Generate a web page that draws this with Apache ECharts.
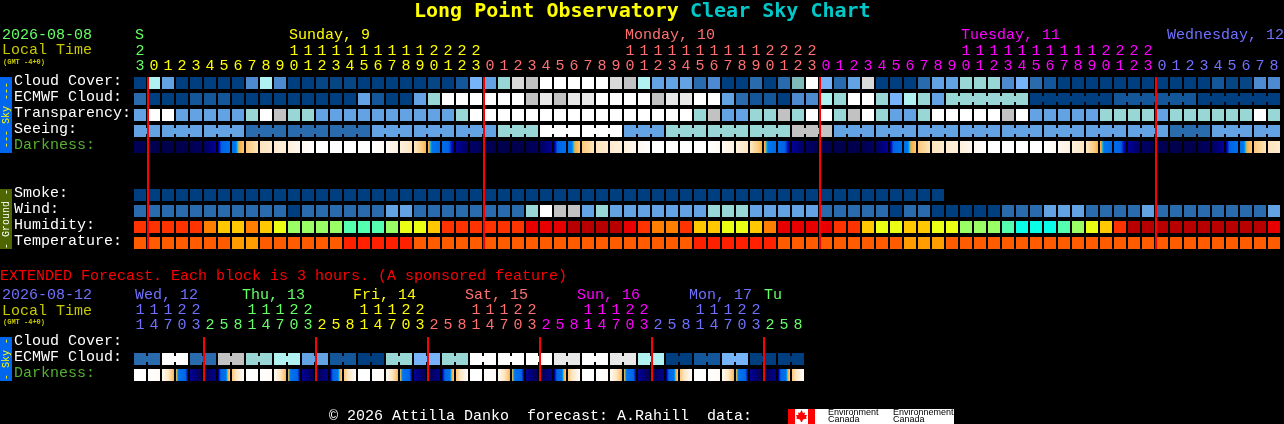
<!DOCTYPE html>
<html>
<head>
<meta charset="utf-8">
<style>html,body{margin:0;padding:0;background:#000}#c{width:1284px;height:424px}</style>
<script src="https://cdn.jsdelivr.net/npm/echarts@6/dist/echarts.min.js"></script>
</head>
<body>
<div id="c"></div>
<script>
// ---------- Data ----------
const hours = [23,
  0,1,2,3,4,5,6,7,8,9,10,11,12,13,14,15,16,17,18,19,20,21,22,23,
  0,1,2,3,4,5,6,7,8,9,10,11,12,13,14,15,16,17,18,19,20,21,22,23,
  0,1,2,3,4,5,6,7,8,9,10,11,12,13,14,15,16,17,18,19,20,21,22,23,
  0,1,2,3,4,5,6,7,8];
const extHours = [11,14,17,20,23,2,5,8, 11,14,17,20,23,2,5,8, 11,14,17,20,23,2,5,8,
  11,14,17,20,23,2,5,8, 11,14,17,20,23,2,5,8, 11,14,17,20,23,2,5,8];
const rowNames = ['Cloud Cover:','ECMWF Cloud:','Transparency:','Seeing:','Darkness:','','','Smoke:','Wind:','Humidity:','Temperature:'];
const extRowNames = ['Cloud Cover:','ECMWF Cloud:','Darkness:'];
const cloudCover = [0,7,4,0,0,0,0,0,3,7, 3,0,0,13,13,13,0,0,0,0, 0,13,0,1,5,4,6,12,8,10,
  10,10,10,10,12,8,7,4,4,4, 2,3,0,0,2,0,2,11,10,5, 2,4,12,0,0,0,2,4,4,6,
  6,6,3,5,2,1,0,0,0,0, 0,0,0,0,0,0,0,1,13,13, 3,3];
const ecmwfCloud = [2,0,0,0,1,1,1,0,0,0, 0,0,0,0,0,0,4,1,0,0, 4,6,10,10,10,10,10,10,8,9,
  8,9,9,10,10,10,10,8,9,9, 10,10,4,2,1,1,0,3,3,7, 6,10,10,6,5,7,6,4,6,6,
  6,6,6,6,0,0,0,0,0,0, 1,1,1,1,1,1,0,0,0,0, 0,0];
const ecmwfJoined = [[58,63],[64,69],[70,75],[76,81]];
const transparency = [4,10,10,4,4,4,4,4,6,10, 8,6,6,4,4,4,4,4,4,4, 4,4,4,6,10,10,10,10,10,10,
  10,10,10,10,10,10,10,10,10,10, 6,8,4,4,6,6,8,6,10,10, 6,8,10,6,4,4,6,10,10,10,
  10,10,8,10,4,4,4,4,4,6, 6,6,6,4,6,6,6,6,6,6, 10,6];
const seeingBlocks = [4,4,4,2,2,2,4,4,4,6,10,10,4,6,6,6,8,4,4,4,4,4,4,4,4,2,4,4];
const seeingSpans  = [2,3,3,3,3,3,3,3,3,3,3,3,3,3,3,3,3,3,3,3,3,3,3,3,3,3,3,2];
const darknessEdges = [5,4,3,3,4,7,16,38,56,70,78,84,92,100,100,100,100,100,94,84,72,50,30,16,8,
  6,4,3,4,7,16,38,56,70,78,84,92,100,100,100,100,100,94,84,72,50,30,16,8,
  5,4,3,4,7,16,38,56,70,78,84,92,100,100,100,100,100,94,84,72,50,30,16,8,
  5,4,3,4,7,16,38,56,70,78];
const smoke = [0,0,0,0,0,0,0,0,0,0, 0,0,0,0,0,0,0,0,0,0, 0,0,0,0,0,0,0,0,0,0,
  0,0,0,0,0,0,0,0,0,0, 0,0,0,0,0,0,0,0,0,0, 0,0,0,0,0,0,0,0];
const wind = [2,2,2,2,2,2,2,2,2,2, 2,0,2,2,2,2,2,2,4,4, 2,2,2,2,2,2,2,2,6,10,
  8,8,4,6,4,4,4,4,4,4, 4,6,6,6,4,4,4,4,4,2, 2,2,2,2,0,2,2,0,0,0,
  0,0,2,2,2,4,4,4,2,2, 2,2,4,2,2,2,2,2,2,2, 2,4];
const humidity = [2,2,2,2,2,3,4,4,3,4, 5,6,6,6,6,7,7,7,6,5, 5,4,2,2,2,2,2,2,1,1,
  1,0,0,0,0,1,2,3,3,2, 4,4,5,5,4,3,1,1,1,1, 2,2,4,5,5,4,4,5,5,6,
  6,6,7,8,8,8,7,6,5,4, 2,0,0,0,0,0,0,0,0,0, 0,1];
const temperature = [1,1,1,1,1,1,1,2,2,1, 1,1,1,1,1,0,0,0,0,0, 1,1,1,1,1,1,1,1,1,1,
  1,1,1,1,1,1,1,1,1,1, 0,0,0,0,0,0,1,1,1,1, 1,1,1,1,1,2,2,2,1,1,
  1,1,1,1,1,1,1,1,1,1, 1,1,1,1,1,1,1,1,1,1, 1,1];
const extEcmwfBlocks = [2,10,2,8,6,7,4,1,0,6,5,6,10,10,10,9,10,9,7,0,1,5,0,0];
const extDarknessEdges = [100,100,96,50,16,5,14,56, 100,100,96,50,16,5,14,56, 100,100,96,50,16,5,14,56,
  100,100,96,50,16,5,14,56, 100,100,96,50,16,5,14,56, 100,100,96,50,16,5,14,56, 100];
const dayBreaks = [1,25,49,73];
const extDayBreaks = [5,13,21,29,37,45];
const dayNames = ['S','Sunday, 9','Monday, 10','Tuesday, 11','Wednesday, 12'];
const extDayNames = ['Wed, 12','Thu, 13','Fri, 14','Sat, 15','Sun, 16','Mon, 17','Tu'];

// ---------- Styles and layout ----------
const skyPalette = ['#003f7f','#13569a','#2a6bae','#4d8ad0','#63a2e3','#76b3f8','#99d6d6','#b0f2f2',
  '#c2c2c2','#e8e8e8','#ffffff','#7fbaba','#dadada','#074684'];
const humidityPalette = ['#b80000','#e80000','#ff3300','#ff8000','#ffc800','#eaff14','#9aff64','#54ffb0','#0affe8'];
const temperaturePalette = ['#ff2000','#ff5c00','#ff9c00'];
const darkRamp = [[0,'#00003c'],[8,'#000064'],[14,'#00008c'],[18,'#0000b4'],[22,'#0064e4'],[44,'#0074f0'],
  [46,'#00c8e8'],[48,'#f8a838'],[56,'#fcc878'],[70,'#fde4bc'],[84,'#fff0dc'],[100,'#ffffff']];
const dayColors = ['#66ff66','#ffff00','#ff7070','#ff00ff','#7070ff'];
const extDayColors = ['#7070ff','#66ff66','#ffff00','#ff7070','#ff00ff','#7070ff','#66ff66'];
const dayNameX = [135,289,625,961,1167];
const extDayNameX = [135,242,353,465,577,689,764];
const MONO = '"Liberation Mono", monospace';
const FONT = '15px ' + MONO;

function hexToRgb(h){return [1,3,5].map(k=>parseInt(h.substr(k,2),16));}
function rampColor(v){
  for(let k=1;k<darkRamp.length;k++){
    if(v<=darkRamp[k][0]){
      const [a,ca]=darkRamp[k-1],[b,cb]=darkRamp[k];
      const t=(v-a)/(b-a),A=hexToRgb(ca),B=hexToRgb(cb);
      return 'rgb('+A.map((x,n)=>Math.round(x+(B[n]-x)*t)).join(',')+')';
    }
  }
  return darkRamp[darkRamp.length-1][1];
}
function cellGradient(a,b){
  const stops=[];
  for(let s=0;s<=12;s++){stops.push({offset:s/12,color:rampColor(a+(b-a)*s/12)});}
  return new echarts.graphic.LinearGradient(0,0,1,0,stops);
}
function cellRect(api){
  const c=api.coord([api.value(0),api.value(1)]),s=api.size([1,1]);
  return {x:c[0]-s[0]/2+1,y:c[1]-s[1]/2+2,w:s[0]-2,h:s[1]-4};
}
// Flat cell row: values index a palette; joined pairs get a connector in the gap.
function flatRow(name,values,row,palette,gridIdx,joins){
  const data=values.map((v,i)=>[i,row,v,joins&&joins[i]?1:0]);
  return {type:'custom',name,xAxisIndex:gridIdx===0?0:2,yAxisIndex:gridIdx,silent:true,data,z:2,
    encode:{x:0,y:1},clip:false,
    renderItem(p,api){
      const r=cellRect(api),fill=palette[api.value(2)];
      const children=[{type:'rect',shape:{x:r.x,y:r.y,width:r.w,height:r.h},style:{fill}}];
      if(api.value(3)) children.push({type:'rect',shape:{x:r.x+r.w,y:r.y+3,width:2,height:6},style:{fill}});
      return {type:'group',children};
    }};
}
function gradientRow(name,edges,row,gridIdx){
  const data=edges.slice(0,-1).map((v,i)=>[i,row,v,edges[i+1]]);
  return {type:'custom',name,xAxisIndex:gridIdx===0?0:2,yAxisIndex:gridIdx,silent:true,data,z:2,
    encode:{x:0,y:1},clip:false,
    renderItem(p,api){
      const r=cellRect(api);
      return {type:'rect',shape:{x:r.x,y:r.y,width:r.w,height:r.h},style:{fill:cellGradient(api.value(2),api.value(3))}};
    }};
}
function breakLines(name,breaks,firstRow,lastRow,gridIdx){
  return {type:'custom',name,xAxisIndex:gridIdx===0?0:2,yAxisIndex:gridIdx,silent:true,z:5,clip:false,
    data:breaks.map(b=>[b,firstRow,lastRow]),encode:{x:0,y:1},
    renderItem(p,api){
      const t=api.coord([api.value(0),api.value(1)]),b=api.coord([api.value(0),api.value(2)]),s=api.size([1,1]);
      const y0=t[1]-s[1]/2+2,y1=b[1]+s[1]/2-2;
      return {type:'rect',shape:{x:t[0]-s[0]/2,y:y0,width:2,height:y1-y0},style:{fill:'#ff0000'}};
    }};
}
function joinsFromRanges(n,ranges){
  const j=new Array(n).fill(false);
  ranges.forEach(([a,b])=>{for(let i=a;i<b;i++)j[i]=true;});
  return j;
}
function expandBlocks(levels,spans){
  const vals=[],join=[];
  levels.forEach((v,k)=>{for(let n=0;n<spans[k];n++){vals.push(v);join.push(n<spans[k]-1);}});
  return {vals,join};
}
const seeing=expandBlocks(seeingBlocks,seeingSpans);
const extEcmwf=expandBlocks(extEcmwfBlocks,extEcmwfBlocks.map(()=>2));

function colorAt(i,breaks,colors){let k=0;breaks.forEach(b=>{if(i>=b)k++;});return colors[k];}
function hourAxis(gridIndex,data,fmt,offset,colorFn,margin){
  return {type:'category',gridIndex,position:'top',data,offset,
    axisLine:{show:false},axisTick:{show:false},splitLine:{show:false},
    axisLabel:{interval:0,margin,fontFamily:'Liberation Mono',fontSize:15,formatter:fmt,
      color:(v,i)=>colorFn(i),hideOverlap:false}};
}
function cellAxis(gridIndex,data){
  return {type:'category',gridIndex,inverse:true,data,show:false};
}
// Row names sit about 2px above the cell centres, so they live on their own label grids.
function labelAxis(gridIndex,data){
  return {type:'category',gridIndex,inverse:true,data,
    axisLine:{show:false},axisTick:{show:false},splitLine:{show:false},
    axisLabel:{interval:0,margin:119,align:'left',fontFamily:'Liberation Mono',fontSize:15,
      color:v=>v==='Darkness:'?'#55b030':'#ffffff'}};
}
const mainColor=i=>colorAt(i,dayBreaks,dayColors);
const extColor=i=>colorAt(i,extDayBreaks,extDayColors);
const units=(v)=>String(Number(v)%10);
const tens=(v)=>Number(v)>=10?String(Math.floor(Number(v)/10)):'';

function txt(text,x,y,fill,font){
  return {type:'text',silent:true,style:{text,x,y,fill,font:font||FONT,verticalAlign:'middle',align:'left'}};
}
function band(y,h,fill,label,textFill){
  return [
    {type:'rect',silent:true,shape:{x:0,y,width:12,height:h},style:{fill}},
    {type:'text',silent:true,x:6,y:y+h/2,rotation:Math.PI/2,
      style:{text:label,fill:textFill,font:'10px '+MONO,align:'center',verticalAlign:'middle'}}
  ];
}
const TINY='bold 7px '+MONO;
const LOGO='9px "Liberation Sans"';
const graphics=[
  txt('Long Point Observatory ',414,12,'#ffff00','bold 20px "DejaVu Sans Mono"'),
  txt('Clear Sky Chart',690,12,'#00c8c8','bold 20px "DejaVu Sans Mono"'),
  txt('2026-08-08',2,35,dayColors[0]),
  txt('Local Time',2,50,'#c8c800'),
  txt('(GMT -4+0)',3,62,'#c8c800',TINY),
  ...dayNames.map((t,i)=>txt(t,dayNameX[i],35,dayColors[i])),
  ...band(77,76,'#0066ee','--- Sky ---','#ffff00'),
  ...band(189,60,'#4d6600','- Ground -','#ffffff'),
  txt('EXTENDED Forecast. Each block is 3 hours. (A sponsored feature)',0,276,'#ff0000'),
  txt('2026-08-12',2,295,extDayColors[0]),
  txt('Local Time',2,311,'#c8c800'),
  txt('(GMT -4+0)',3,322,'#c8c800',TINY),
  ...extDayNames.map((t,i)=>txt(t,extDayNameX[i],295,extDayColors[i])),
  ...band(337,44,'#0066ee','- Sky -','#ffff00'),
  txt('\u00a9 2026 Attilla Danko  forecast: A.Rahill  data:',329,416,'#ffffff'),
  // Environment Canada logo
  {type:'rect',silent:true,shape:{x:788,y:409,width:166,height:15},style:{fill:'#ffffff'}},
  {type:'rect',silent:true,shape:{x:788,y:409,width:7,height:15},style:{fill:'#ff0000'}},
  {type:'rect',silent:true,shape:{x:808,y:409,width:7,height:15},style:{fill:'#ff0000'}},
  {type:'polygon',silent:true,shape:{points:[[801.5,410],[803,413],[805,412.5],[804.5,415],[807,415],[806,417.5],[807,418.5],[803,419.5],[802,422],[801,422],[800,419.5],[796,418.5],[797,417.5],[796,415],[798.5,415],[798,412.5],[800,413]]},style:{fill:'#ff0000'}},
  txt('Environment',828,413,'#000000',LOGO),
  txt('Canada',828,420,'#000000',LOGO),
  txt('Environnement',893,413,'#000000',LOGO),
  txt('Canada',893,420,'#000000',LOGO)
];

const option={
  backgroundColor:'#000000',
  animation:false,
  tooltip:{show:false},
  grid:[
    {left:133,top:75,width:1148,height:176},
    {left:133,top:335,width:672,height:48},
    {left:133,top:73,width:1148,height:176},
    {left:133,top:333,width:672,height:48}
  ],
  xAxis:[
    hourAxis(0,hours,units,0,mainColor,1),
    hourAxis(0,hours,tens,15,mainColor,1),
    hourAxis(1,extHours,units,0,extColor,2),
    hourAxis(1,extHours,tens,15,extColor,2),
    {type:'category',gridIndex:2,show:false,data:hours},
    {type:'category',gridIndex:3,show:false,data:extHours}
  ],
  yAxis:[cellAxis(0,rowNames),cellAxis(1,extRowNames),labelAxis(2,rowNames),labelAxis(3,extRowNames)],
  graphic:{elements:graphics},
  series:[
    flatRow('Cloud Cover',cloudCover,0,skyPalette,0),
    flatRow('ECMWF Cloud',ecmwfCloud,1,skyPalette,0,joinsFromRanges(ecmwfCloud.length,ecmwfJoined)),
    flatRow('Transparency',transparency,2,skyPalette,0),
    flatRow('Seeing',seeing.vals,3,skyPalette,0,seeing.join),
    gradientRow('Darkness',darknessEdges,4,0),
    flatRow('Smoke',smoke,7,skyPalette,0),
    flatRow('Wind',wind,8,skyPalette,0),
    flatRow('Humidity',humidity,9,humidityPalette,0),
    flatRow('Temperature',temperature,10,temperaturePalette,0),
    breakLines('Midnight',dayBreaks,0,10,0),
    flatRow('Ext ECMWF Cloud',extEcmwf.vals,1,skyPalette,1,extEcmwf.join),
    gradientRow('Ext Darkness',extDarknessEdges,2,1),
    breakLines('Ext Midnight',extDayBreaks,0,2,1)
  ]
};
echarts.init(document.getElementById('c'),null,{renderer:'canvas',width:1284,height:424,devicePixelRatio:1}).setOption(option);
</script>
</body>
</html>
